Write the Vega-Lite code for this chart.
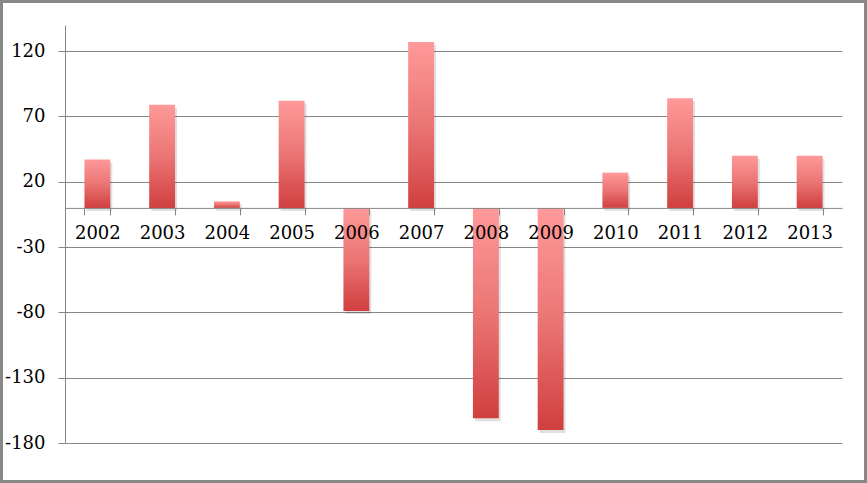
{
  "$schema": "https://vega.github.io/schema/vega-lite/v6.json",
  "width": 867,
  "height": 483,
  "autosize": "none",
  "padding": 0,
  "background": "white",
  "config": {
    "view": {"stroke": "#878787", "strokeWidth": 6},
    "font": "DejaVu Serif"
  },
  "data": {
    "values": [
      {"year": "2002", "value": 37},
      {"year": "2003", "value": 79},
      {"year": "2004", "value": 5},
      {"year": "2005", "value": 82},
      {"year": "2006", "value": -79},
      {"year": "2007", "value": 127},
      {"year": "2008", "value": -161},
      {"year": "2009", "value": -170},
      {"year": "2010", "value": 27},
      {"year": "2011", "value": 84},
      {"year": "2012", "value": 40},
      {"year": "2013", "value": 40}
    ]
  },
  "encoding": {
    "x": {
      "field": "year",
      "type": "ordinal",
      "sort": null,
      "scale": {"range": [65, 842], "paddingInner": 0.6, "paddingOuter": 0.3},
      "axis": {
        "orient": "bottom",
        "offset": -275.1,
        "title": null,
        "labelAngle": 0,
        "tickBand": "extent",
        "grid": false,
        "domainColor": "#868686",
        "tickColor": "#868686",
        "tickSize": 7,
        "labelFont": "DejaVu Serif",
        "labelFontSize": 18,
        "labelColor": "black",
        "labelPadding": 10,
        "zindex": 1
      }
    },
    "y": {
      "field": "value",
      "type": "quantitative",
      "scale": {"domain": [-180, 140], "range": [443, 25], "nice": false, "zero": false},
      "axis": {
        "orient": "left",
        "offset": -65,
        "title": null,
        "values": [-180, -130, -80, -30, 20, 70, 120],
        "labelExpr": "'' + datum.value",
        "grid": true,
        "gridColor": "#868686",
        "gridOpacity": 1,
        "domainColor": "#868686",
        "tickColor": "#868686",
        "tickSize": 7,
        "labelFont": "DejaVu Serif",
        "labelFontSize": 18,
        "labelColor": "black",
        "labelPadding": 13
      }
    }
  },
  "layer": [
    {
      "mark": {"type": "bar", "color": "#000000", "opacity": 0.12, "xOffset": 2, "yOffset": 3}
    },
    {
      "mark": {
        "type": "bar",
        "color": {
          "gradient": "linear",
          "x1": 0, "y1": 0, "x2": 0, "y2": 1,
          "stops": [
            {"offset": 0, "color": "#FF9999"},
            {"offset": 0.5, "color": "#EB7575"},
            {"offset": 1, "color": "#D13F3F"}
          ]
        }
      }
    }
  ]
}
